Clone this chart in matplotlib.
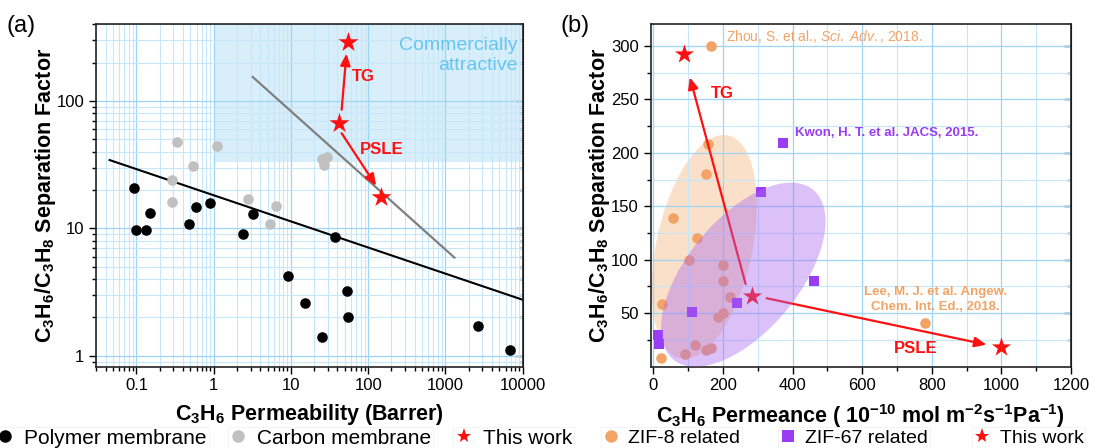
import numpy as np
import matplotlib
matplotlib.use('Agg')
import matplotlib.pyplot as plt
import matplotlib.transforms as mtransforms
from matplotlib.patches import Ellipse
from matplotlib.lines import Line2D
from matplotlib.ticker import LogLocator, NullFormatter, FixedLocator

# ---- panel (a) data: C3H6 permeability (Barrer) vs separation factor ----
polymer_perm = [0.092, 0.1, 0.132, 0.149, 0.48, 0.59, 0.9, 2.37, 3.26, 37.7,
                9.2, 15.2, 52.9, 55, 25.2, 2600, 6750]
polymer_sel = [20.7, 9.8, 9.8, 13.1, 10.9, 14.8, 15.8, 8.97, 12.9, 8.6,
               4.23, 2.59, 3.25, 2.01, 1.41, 1.72, 1.11]
carbon_perm = [0.333, 1.11, 0.54, 0.285, 0.285, 2.74, 6.43, 5.35, 25, 29.1, 27.1]
carbon_sel = [48, 44, 31, 23.9, 16, 16.9, 15, 10.9, 35, 36.1, 31.6]
work_a_perm = [54, 41.8, 146]
work_a_sel = [292, 67, 17.7]
polymer_bound_perm = [0.045, 10000]
polymer_bound_sel = [34.4, 2.75]
carbon_bound_perm = [3.2, 1306]
carbon_bound_sel = [154.6, 5.9]
attractive_perm = [1, 10000]
attractive_sel = 33

# ---- panel (b) data: C3H6 permeance vs separation factor ----
zif8_perm = [165, 158, 151, 55, 126, 101, 200, 200, 220, 25, 200, 185,
             781, 120, 90, 151, 165, 21]
zif8_sel = [300, 208, 180, 139, 120, 100, 95, 80, 65, 59, 50, 46,
            40.5, 20, 12, 15.5, 17.8, 8]
zif67_perm = [372, 310, 460, 241, 110, 13, 17]
zif67_sel = [209.5, 163, 80, 60, 50.7, 29.5, 21]
work_b_perm = [88, 282, 1000]
work_b_sel = [292, 66.5, 18]

a_ticks = [0.1, 1, 10, 100, 1000, 10000]
a_ticklabels = ['0.1', '1', '10', '100', '1000', '10000']
b_xticks = [0, 200, 400, 600, 800, 1000, 1200]
b_yticks = [50, 100, 150, 200, 250, 300]

RED = '#ff1010'
ORANGE = '#f2a467'
PURPLE = '#9b3cf5'
GRID_MAJ = '#9fd5f4'
GRID_MIN = '#c6e7fa'

plt.rcParams['font.family'] = ['Liberation Sans', 'DejaVu Sans']
plt.rcParams['mathtext.fontset'] = 'custom'
plt.rcParams['mathtext.rm'] = 'Liberation Sans'
plt.rcParams['mathtext.bf'] = 'Liberation Sans:bold'
plt.rcParams['mathtext.it'] = 'Liberation Sans:italic'

fig = plt.figure(figsize=(10.94, 4.48), dpi=100)
ax1 = fig.add_axes([0.0878, 0.1815, 0.390, 0.764])
ax2 = fig.add_axes([0.5948, 0.1815, 0.3842, 0.764])

ylab = r'C$_\mathbf{3}$H$_\mathbf{6}$/C$_\mathbf{3}$H$_\mathbf{8}$ Separation Factor'


def style_axes(ax):
    for sp in ax.spines.values():
        sp.set_linewidth(1.2)
        sp.set_color('#222222')
    ax.tick_params(which='both', direction='out', labelsize=12, width=1)
    ax.tick_params(which='major', length=5)
    ax.tick_params(which='minor', length=3)
    ax.grid(which='major', color=GRID_MAJ, lw=0.9)
    ax.grid(which='minor', color=GRID_MIN, lw=0.8)


# ---------------- panel (a) ----------------
ax1.set_xscale('log')
ax1.set_yscale('log')
ax1.set_xlim(0.03, 10000)
ax1.set_ylim(0.82, 400)
ax1.set_xticks(a_ticks)
ax1.set_xticklabels(a_ticklabels)
ax1.set_yticks([1, 10, 100])
ax1.set_yticklabels(['1', '10', '100'])
ax1.xaxis.set_minor_locator(LogLocator(base=10, subs=np.arange(2, 10)))
ax1.yaxis.set_minor_locator(LogLocator(base=10, subs=np.arange(2, 10)))
ax1.xaxis.set_minor_formatter(NullFormatter())
ax1.yaxis.set_minor_formatter(NullFormatter())
style_axes(ax1)

ax1.fill_between(attractive_perm, attractive_sel, 400, color='#a9dcf8', alpha=0.45,
                 lw=0, zorder=1)
ax1.text(0.988, 0.91, 'Commercially\nattractive', transform=ax1.transAxes,
         ha='right', va='center', fontsize=14, color='#66c6f2', linespacing=1.25)

ax1.plot(polymer_bound_perm, polymer_bound_sel, color='black', lw=1.5, zorder=2)
ax1.plot(carbon_bound_perm, carbon_bound_sel, color='#808080', lw=1.6, zorder=2)
ax1.scatter(carbon_perm, carbon_sel, s=58, color='#c0c0c0', lw=0, zorder=3)
ax1.scatter(polymer_perm, polymer_sel, s=58, color='black', lw=0, zorder=3)
ax1.scatter(work_a_perm, work_a_sel, s=230, marker='*', color=RED, lw=0, zorder=4)

arrow = dict(arrowstyle='-|>,head_length=0.7,head_width=0.3', color=RED, lw=1.6,
             shrinkA=0, shrinkB=0)
ax1.annotate('', xy=(52.3, 236), xytext=(45.3, 85.4), arrowprops=arrow, zorder=4)
ax1.annotate('', xy=(126.7, 21.6), xytext=(45.3, 55.9), arrowprops=arrow, zorder=4)
ax1.text(87.5, 154.6, 'TG', color=RED, fontsize=12, fontweight='bold',
         ha='center', va='center')
ax1.text(151, 42, 'PSLE', color=RED, fontsize=12, fontweight='bold',
         ha='center', va='center')

ax1.set_xlabel(r'C$_\mathbf{3}$H$_\mathbf{6}$ Permeability (Barrer)', fontsize=15.5,
               fontweight='bold', labelpad=6)
ax1.set_ylabel(ylab, fontsize=15.5, fontweight='bold', labelpad=-1)

# ---------------- panel (b) ----------------
ax2.set_xlim(-8, 1200)
ax2.set_ylim(0, 320)
ax2.set_xticks(b_xticks)
ax2.set_yticks(b_yticks)
ax2.xaxis.set_minor_locator(FixedLocator(np.arange(100, 1200, 200)))
ax2.yaxis.set_minor_locator(FixedLocator(np.arange(25, 320, 50)))
style_axes(ax2)

ax2.add_patch(Ellipse((0, 0), width=2.28, height=0.96, angle=78,
                      transform=fig.dpi_scale_trans +
                      mtransforms.ScaledTranslation(146, 112, ax2.transData),
                      facecolor='#f4b27a', alpha=0.4, lw=0, zorder=1))

ax2.scatter(zif8_perm, zif8_sel, s=58, color=ORANGE, lw=0, zorder=3)
ax2.scatter(zif67_perm, zif67_sel, s=52, marker='s', color=PURPLE, lw=0, zorder=3)
ax2.scatter(work_b_perm, work_b_sel, s=210, marker='*', color=RED, lw=0, zorder=3)
ax2.annotate('', xy=(104.6, 270.6), xytext=(264.8, 77.2), arrowprops=arrow, zorder=3)
ax2.annotate('', xy=(957, 20.6), xytext=(325, 64), arrowprops=arrow, zorder=3)

ax2.add_patch(Ellipse((0, 0), width=2.2, height=1.12, angle=50.5,
                      transform=fig.dpi_scale_trans +
                      mtransforms.ScaledTranslation(258, 86, ax2.transData),
                      facecolor='#a866f0', alpha=0.4, lw=0, zorder=4))

ax2.text(198, 255, 'TG', color=RED, fontsize=12, fontweight='bold',
         ha='center', va='center')
ax2.text(754, 16.6, 'PSLE', color=RED, fontsize=12, fontweight='bold',
         ha='center', va='center')
ax2.text(208, 309, r'Zhou, S. et al., $\mathit{Sci.\ Adv.}$, 2018.', color=ORANGE,
         fontsize=10, ha='left', va='center')
ax2.text(407, 218.6, 'Kwon, H. T. et al. JACS, 2015.', color=PURPLE, fontsize=9.5,
         fontweight='bold', ha='left', va='center')
ax2.text(810, 63, 'Lee, M. J. et al. Angew.\nChem. Int. Ed., 2018.', color=ORANGE,
         fontsize=9.5, fontweight='bold', ha='center', va='center', linespacing=1.35)

ax2.set_xlabel(r'C$_\mathbf{3}$H$_\mathbf{6}$ Permeance ( 10$^\mathbf{-10}$ mol '
               r'm$^\mathbf{-2}$s$^\mathbf{-1}$Pa$^\mathbf{-1}$)', fontsize=15.5,
               fontweight='bold', labelpad=6)
ax2.set_ylabel(ylab, fontsize=15.5, fontweight='bold', labelpad=-1)

# mirrored inward ticks on the right side
for ax in (ax1, ax2):
    sec = ax.secondary_yaxis('right')
    sec.tick_params(which='both', direction='in', labelright=False, width=1)
    sec.tick_params(which='major', length=5)
    sec.tick_params(which='minor', length=3)
    if ax is ax1:
        sec.set_yticks([1, 10, 100])
    else:
        sec.set_yticks(b_yticks)
        sec.yaxis.set_minor_locator(FixedLocator(np.arange(25, 320, 50)))
    sec.set_yticklabels([])

fig.text(0.006, 0.942, '(a)', fontsize=17, va='center')
fig.text(0.512, 0.942, '(b)', fontsize=17, va='center')

# ---------------- legends along the bottom ----------------
entries = [
    (dict(marker='o', color='black', markersize=9), 'Polymer membrane', -0.0045, 15),
    (dict(marker='o', color='#c0c0c0', markersize=9), 'Carbon membrane', 0.208, 15),
    (dict(marker='*', color=RED, markersize=11), 'This work', 0.4145, 15),
    (dict(marker='o', color=ORANGE, markersize=9), 'ZIF-8 related', 0.5496, 14),
    (dict(marker='s', color=PURPLE, markersize=8), 'ZIF-67 related', 0.7114, 14),
    (dict(marker='*', color=RED, markersize=11), 'This work', 0.8888, 14),
]
for kw, label, xpos, fs in entries:
    h = Line2D([], [], linestyle='none', markeredgewidth=0, **kw)
    leg = fig.legend(handles=[h], labels=[label], loc='center left',
                     bbox_to_anchor=(xpos, 0.022), fontsize=fs, frameon=True,
                     fancybox=False, edgecolor='#f0f0f0', facecolor='none',
                     borderpad=0.1, handlelength=0.8, handletextpad=0.5,
                     borderaxespad=0)
    leg.get_frame().set_linewidth(0.6)

fig.savefig('out.png', dpi=100)
